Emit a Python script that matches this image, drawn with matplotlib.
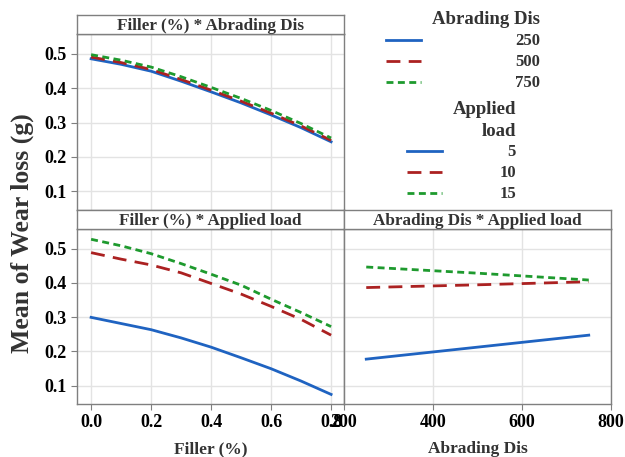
import matplotlib
matplotlib.use("Agg")
import matplotlib.pyplot as plt
from matplotlib.lines import Line2D

plt.rcParams['font.family'] = ['Liberation Serif', 'DejaVu Serif']
plt.rcParams['font.weight'] = 'bold'

# ---- data ----
filler = [0.0, 0.1, 0.2, 0.3, 0.4, 0.5, 0.6, 0.7, 0.8]
abr_levels = ["250", "500", "750"]
fa_250 = [0.485, 0.469, 0.449, 0.420, 0.389, 0.357, 0.322, 0.285, 0.244]
fa_500 = [0.490, 0.474, 0.454, 0.425, 0.394, 0.362, 0.327, 0.290, 0.248]
fa_750 = [0.497, 0.481, 0.461, 0.433, 0.402, 0.370, 0.335, 0.297, 0.255]

load_levels = ["5", "10", "15"]
fl_5 = [0.299, 0.281, 0.263, 0.239, 0.212, 0.181, 0.149, 0.113, 0.074]
fl_10 = [0.488, 0.469, 0.452, 0.429, 0.398, 0.367, 0.331, 0.293, 0.247]
fl_15 = [0.527, 0.508, 0.485, 0.456, 0.425, 0.393, 0.352, 0.313, 0.272]

abrading = [250, 500, 750]
al_5 = [0.177, 0.212, 0.247]
al_10 = [0.386, 0.394, 0.403]
al_15 = [0.446, 0.428, 0.408]

yticks = [0.1, 0.2, 0.3, 0.4, 0.5]
fticks = [0.0, 0.2, 0.4, 0.6, 0.8]
aticks = [200, 400, 600, 800]

colors = ['#1f63c1', '#ab2121', '#1e9a2e']
styles = ['-', (0, (5, 3)), (0, (2.5, 1.6))]

W, H = 625, 457
fig = plt.figure(figsize=(W / 100, H / 100), dpi=100)

def ax_px(x0, y0, x1, y1):
    return fig.add_axes([x0 / W, 1 - y1 / H, (x1 - x0) / W, (y1 - y0) / H])

frame_col = '#7f7f7f'
ylim = (0.046, 0.557)
TXT = '#333333'

def style_ax(ax, title, show_y=True):
    ax.set_ylim(*ylim)
    ax.set_yticks(yticks)
    ax.grid(True, color='#e3e3e3', lw=1.0)
    ax.set_axisbelow(True)
    for s in ax.spines.values():
        s.set_color(frame_col)
        s.set_linewidth(1.0)
    ax.tick_params(colors=frame_col, labelcolor='black', labelsize=13, length=4, width=0.8)
    if not show_y:
        ax.tick_params(axis='y', left=False, labelleft=False)
    for lab in ax.get_xticklabels() + ax.get_yticklabels():
        lab.set_fontweight('bold')
    # strip
    strip = ax.inset_axes([0, 1.0, 1, 19 / 176])
    strip.set_xticks([]); strip.set_yticks([])
    for s in strip.spines.values():
        s.set_color(frame_col); s.set_linewidth(1.0)
    strip.text(0.5, 0.42, title, ha='center', va='center', fontsize=12.3,
               fontweight='bold', color=TXT, transform=strip.transAxes)

# top-left
ax1 = ax_px(77, 34, 344, 210)
for ys, c, ls in zip([fa_250, fa_500, fa_750], colors, styles):
    ax1.plot(filler, ys, color=c, ls=ls, lw=2.0)
ax1.set_xlim(-0.047, 0.843)
ax1.set_xticks(fticks)
ax1.tick_params(axis='x', bottom=False, labelbottom=False)
style_ax(ax1, "Filler (%) * Abrading Dis")

# bottom-left
ax2 = ax_px(77, 229, 344, 404)
for ys, c, ls in zip([fl_5, fl_10, fl_15], colors, styles):
    ax2.plot(filler, ys, color=c, ls=ls, lw=2.0)
ax2.set_xlim(-0.047, 0.843)
ax2.set_xticks(fticks)
ax2.set_xticklabels([f"{v:.1f}" for v in fticks])
style_ax(ax2, "Filler (%) * Applied load")
ax2.set_xlabel("Filler (%)", fontsize=12.5, fontweight='bold', color=TXT, labelpad=7)

# bottom-right
ax3 = ax_px(344, 229, 611, 404)
for ys, c, ls in zip([al_5, al_10, al_15], colors, styles):
    ax3.plot(abrading, ys, color=c, ls=ls, lw=2.0)
ax3.set_xlim(200, 800)
ax3.set_xticks(aticks)
style_ax(ax3, "Abrading Dis * Applied load", show_y=False)
ax3.set_xlabel("Abrading Dis", fontsize=12.5, fontweight='bold', color=TXT, labelpad=7)

# y label
fig.text(22 / W, 1 - 233 / H, "Mean of Wear loss (g)", rotation=90, ha='center', va='center',
         fontsize=18.5, fontweight='bold', color=TXT)

# legends (drawn manually in figure pixel coords)
def fx(x): return x / W
def fy(y): return 1 - y / H

fig.text(fx(486), fy(20), "Abrading Dis", ha='center', va='center', fontsize=13.5,
         fontweight='bold', color=TXT)
for i, (lab, c, ls) in enumerate(zip(abr_levels, colors, styles)):
    y = 40 + i * 21
    fig.add_artist(Line2D([fx(386), fx(421)], [fy(y), fy(y)], color=c, ls=ls, lw=2.0))
    fig.text(fx(540), fy(y + 1), lab, ha='right', va='center', fontsize=12,
             fontweight='bold', color=TXT)

fig.text(fx(516), fy(109), "Applied", ha='right', va='center', fontsize=13.5,
         fontweight='bold', color=TXT)
fig.text(fx(516), fy(131), "load", ha='right', va='center', fontsize=13.5,
         fontweight='bold', color=TXT)
for i, (lab, c, ls) in enumerate(zip(load_levels, colors, styles)):
    y = 151 + i * 21
    fig.add_artist(Line2D([fx(407), fx(442)], [fy(y), fy(y)], color=c, ls=ls, lw=2.0))
    fig.text(fx(516), fy(y + 1), lab, ha='right', va='center', fontsize=12,
             fontweight='bold', color=TXT)

fig.savefig("out.png", dpi=100)
